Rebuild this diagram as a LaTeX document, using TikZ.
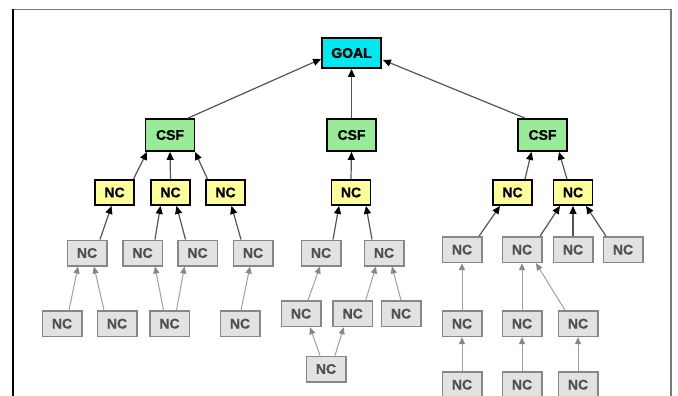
\documentclass[tikz,border=0pt]{standalone}
\usepackage{fontspec}
\setmainfont{Liberation Sans}[BoldFeatures={FakeBold=0.8}]
\newfontfamily\goalfont[BoldFeatures={FakeBold=2.2}]{Liberation Sans}
\usetikzlibrary{arrows.meta}

\definecolor{goalfill}{RGB}{0,232,240}
\definecolor{csffill}{RGB}{152,236,152}
\definecolor{ncfill}{RGB}{255,255,153}
\definecolor{greyfill}{RGB}{226,226,226}
\definecolor{greyline}{RGB}{135,135,135}
\definecolor{greytext}{RGB}{80,80,80}
\definecolor{darkedge}{RGB}{85,85,85}
\definecolor{lightedge}{RGB}{160,160,160}
\definecolor{frameline}{RGB}{120,120,120}

\tikzset{
  box/.style={rectangle, inner sep=0pt, font=\bfseries\fontsize{14}{15}\selectfont},
  goalbox/.style={box, draw=black, line width=1.8pt, fill=goalfill,
                  minimum width=59pt, minimum height=30pt, font=\goalfont\bfseries\fontsize{14}{15}\selectfont},
  csfbox/.style={box, draw=black, line width=1.8pt, fill=csffill,
                 minimum width=49pt, minimum height=32pt},
  ncbox/.style={box, draw=black, line width=1.8pt, fill=ncfill,
                minimum width=39pt, minimum height=25pt},
  greybox/.style={box, draw=greyline, line width=1.5pt, fill=greyfill, text=greytext,
                  minimum width=39.5pt, minimum height=25.5pt},
  upedge/.style={draw=darkedge, line width=1.2pt,
                 -{Triangle[length=8pt,width=7pt,color=black]}},
  lowedge/.style={draw=lightedge, line width=1pt,
                  -{Triangle[length=7pt,width=6pt,color=greyline]}}
}

\begin{document}
\begin{tikzpicture}[x=1pt,y=-1pt]
\clip (0,0) rectangle (678,396);
\fill[white] (0,0) rectangle (678,396);

% page frame
\draw[frameline, line width=1.5pt] (13,9.5) -- (671,9.5) -- (671,400);
\draw[black, line width=1.5pt] (13,9) -- (13,400);

% goal and critical success factors
\node[goalbox] (goal) at (351.5,53) {GOAL};
\node[csfbox] (csfL) at (170,135) {CSF};
\node[csfbox] (csfM) at (351.5,135) {CSF};
\node[csfbox] (csfR) at (542.5,135) {CSF};

% first-level necessary conditions
\node[ncbox] (yL1) at (114.5,192.5) {NC};
\node[ncbox] (yL2) at (170.5,192.5) {NC};
\node[ncbox] (yL3) at (225.5,192.5) {NC};
\node[ncbox] (yM)  at (351,192.5) {NC};
\node[ncbox] (yR1) at (512.5,192.5) {NC};
\node[ncbox] (yR2) at (573,192.5) {NC};

% lower conditions, left branch
\node[greybox] (a1) at (87,253) {NC};
\node[greybox] (a2) at (142.5,253) {NC};
\node[greybox] (a3) at (197.5,253) {NC};
\node[greybox] (a4) at (253,253) {NC};
\node[greybox] (b1) at (62,323.7) {NC};
\node[greybox] (b2) at (117,323.7) {NC};
\node[greybox] (b3) at (169.5,323.7) {NC};
\node[greybox] (b4) at (240,323.7) {NC};

% lower conditions, middle branch
\node[greybox] (m1) at (321,253) {NC};
\node[greybox] (m2) at (384,253) {NC};
\node[greybox] (m3) at (301,313.7) {NC};
\node[greybox] (m4) at (352.7,313.7) {NC};
\node[greybox] (m5) at (401,313.7) {NC};
\node[greybox] (m6) at (326,369) {NC};

% lower conditions, right branch
\node[greybox] (r1) at (462,249.7) {NC};
\node[greybox] (r2) at (522,249.7) {NC};
\node[greybox] (r3) at (573,249.7) {NC};
\node[greybox] (r4) at (623,249.7) {NC};
\node[greybox] (r5) at (462,323.7) {NC};
\node[greybox] (r6) at (522,323.7) {NC};
\node[greybox] (r7) at (578,323.7) {NC};
\node[greybox] (r8) at (462,384.7) {NC};
\node[greybox] (r9) at (522,384.7) {NC};
\node[greybox] (r10) at (578,384.7) {NC};

% CSF -> GOAL
\draw[upedge] ([xshift=18pt]csfL.north) -- ([yshift=-6pt]goal.west);
\draw[upedge] (csfM.north) -- (goal.south);
\draw[upedge] ([xshift=-17.5pt]csfR.north) -- ([xshift=1pt,yshift=-7pt]goal.east);

% NC -> CSF
\draw[upedge] ([xshift=19pt]yL1.north) -- ([xshift=-23pt]csfL.south);
\draw[upedge] (yL2.north) -- (csfL.south);
\draw[upedge] ([xshift=-18pt]yL3.north) -- ([xshift=25pt]csfL.south);
\draw[upedge] (yM.north) -- (csfM.south);
\draw[upedge] ([xshift=12.5pt]yR1.north) -- ([xshift=-11pt]csfR.south);
\draw[upedge] ([xshift=-6pt]yR2.north) -- ([xshift=16.5pt]csfR.south);

% grey NC -> first-level NC
\draw[upedge] ([xshift=13pt]a1.north) -- ([xshift=-3pt]yL1.south);
\draw[upedge] ([xshift=12.5pt]a2.north) -- ([xshift=-10pt]yL2.south);
\draw[upedge] ([xshift=-12pt]a3.north) -- ([xshift=6pt]yL2.south);
\draw[upedge] ([xshift=-12pt]a4.north) -- ([xshift=6pt]yL3.south);
\draw[upedge] ([xshift=12pt]m1.north) -- ([xshift=-12pt]yM.south);
\draw[upedge] ([xshift=-12pt]m2.north) -- ([xshift=15pt]yM.south);
\draw[upedge] ([xshift=17pt]r1.north) -- ([xshift=-12.5pt]yR1.south);
\draw[upedge] ([xshift=18pt]r2.north) -- ([xshift=-13pt]yR2.south);
\draw[upedge] (r3.north) -- (yR2.south);
\draw[upedge] ([xshift=-17pt]r4.north) -- ([xshift=13pt]yR2.south);

% grey NC -> grey NC
\draw[lowedge] ([xshift=7pt]b1.north) -- ([xshift=-9pt]a1.south);
\draw[lowedge] ([xshift=-13pt]b2.north) -- ([xshift=7pt]a1.south);
\draw[lowedge] ([xshift=-6pt]b3.north) -- ([xshift=12.5pt]a2.south);
\draw[lowedge] ([xshift=7pt]b3.north) -- ([xshift=-13pt]a3.south);
\draw[lowedge] ([xshift=1pt]b4.north) -- ([xshift=-3pt]a4.south);
\draw[lowedge] ([xshift=7pt]m3.north) -- ([xshift=-1pt]m1.south);
\draw[lowedge] ([xshift=13pt]m4.north) -- ([xshift=-8pt]m2.south);
\draw[lowedge] (m5.north) -- ([xshift=8pt]m2.south);
\draw[lowedge] ([xshift=-6pt]m6.north) -- ([xshift=9pt]m3.south);
\draw[lowedge] ([xshift=9pt]m6.north) -- ([xshift=-9pt]m4.south);
\draw[lowedge] (r5.north) -- (r1.south);
\draw[lowedge] (r6.north) -- (r2.south);
\draw[lowedge] ([xshift=-13pt]r7.north) -- ([xshift=14pt]r2.south);
\draw[lowedge] (r8.north) -- (r5.south);
\draw[lowedge] (r9.north) -- (r6.south);
\draw[lowedge] (r10.north) -- (r7.south);
\end{tikzpicture}
\end{document}
